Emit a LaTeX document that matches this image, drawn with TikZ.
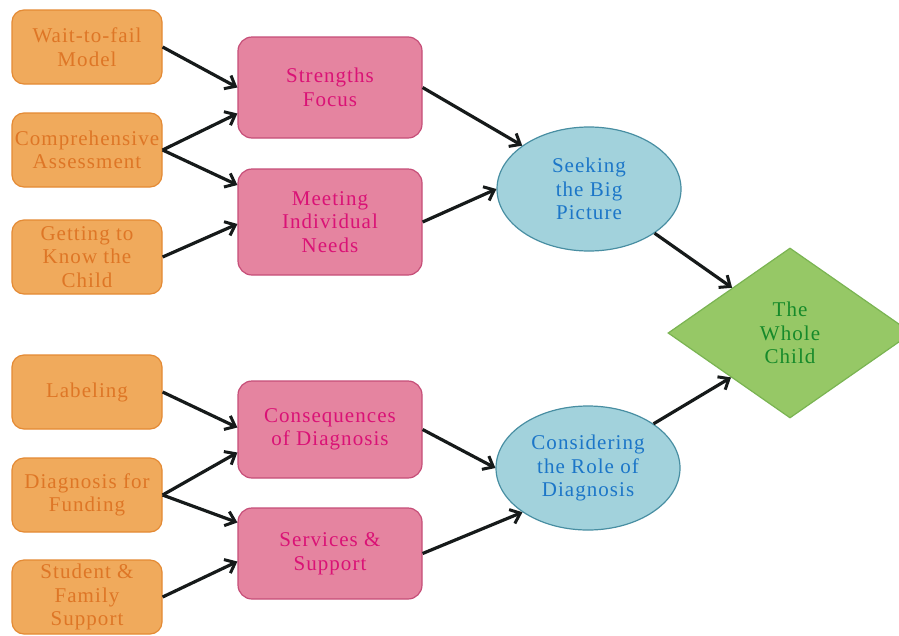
\documentclass[tikz,border=0pt]{standalone}
\usepackage{fontspec}
\setmainfont{Liberation Serif}
\newfontfamily\diagfont{Liberation Serif}[LetterSpace=5.0]
\usetikzlibrary{shapes.geometric,arrows.meta}
\definecolor{orfill}{RGB}{240,170,92}
\definecolor{ordraw}{RGB}{228,138,52}
\definecolor{ortext}{RGB}{222,118,38}
\definecolor{pkfill}{RGB}{229,132,160}
\definecolor{pkdraw}{RGB}{198,78,120}
\definecolor{pktext}{RGB}{218,18,118}
\definecolor{blfill}{RGB}{162,210,220}
\definecolor{bldraw}{RGB}{72,142,162}
\definecolor{bltext}{RGB}{28,118,200}
\definecolor{grfill}{RGB}{150,200,102}
\definecolor{grdraw}{RGB}{122,180,82}
\definecolor{grtext}{RGB}{22,138,42}
\definecolor{arrcol}{RGB}{22,26,26}
\begin{document}
\begin{tikzpicture}[x=1pt,y=-1pt,
  txt/.style={font=\diagfont\fontsize{21}{23.5}\selectfont, align=center, inner sep=0pt},
  obox/.style={txt, rectangle, rounded corners=12pt, draw=ordraw, line width=1.2pt, fill=orfill, text=ortext, minimum width=150pt, minimum height=74pt},
  pbox/.style={txt, rectangle, rounded corners=14pt, draw=pkdraw, line width=1.2pt, fill=pkfill, text=pktext, minimum width=184pt},
  ebox/.style={txt, ellipse, draw=bldraw, line width=1.2pt, fill=blfill, text=bltext, minimum width=184pt, minimum height=124pt},
  dbox/.style={txt, diamond, draw=grdraw, line width=1.2pt, fill=grfill, text=grtext, minimum width=244pt, minimum height=170pt},
  arr/.style={-{Straight Barb[length=9pt,width=15pt,line width=3pt]}, line width=3.2pt, arrcol}
]
\useasboundingbox (0,0) rectangle (899,635);
\fill[white] (0,0) rectangle (899,635);
\clip (0,0) rectangle (899,635);

% left column
\node[obox] (w2f) at (87,47) {Wait-to-fail\\Model};
\node[obox] (comp) at (87,150) {Comprehensive\\Assessment};
\node[obox] (gtk) at (87,257) {Getting to\\Know the\\Child};
\node[obox] (lab) at (87,392) {Labeling};
\node[obox] (dff) at (87,495) {Diagnosis for\\Funding};
\node[obox] (sfs) at (87,597) {Student \&\\Family\\Support};

% middle column
\node[pbox, minimum height=101pt] (str) at (330,87.5) {Strengths\\Focus};
\node[pbox, minimum height=106pt] (min) at (330,222) {Meeting\\Individual\\Needs};
\node[pbox, minimum height=97pt] (cod) at (330,429.5) {Consequences\\of Diagnosis};
\node[pbox, minimum height=91pt] (sas) at (330,553.5) {Services \&\\Support};

% ellipses
\node[ebox] (sbp) at (589,189) {Seeking\\the Big\\Picture};
\node[ebox] (crd) at (588,468) {Considering\\the Role of\\Diagnosis};

% diamond
\node[dbox] (twc) at (790,333) {The\\Whole\\Child};

% connectors
\draw[arr] (w2f.east) -- (str.west);
\draw[arr] (comp.east) -- ([yshift=-26pt]str.west);
\draw[arr] (comp.east) -- ([yshift=37pt]min.west);
\draw[arr] (gtk.east) -- ([yshift=-2pt]min.west);
\draw[arr] (lab.east) -- ([yshift=2pt]cod.west);
\draw[arr] (dff.east) -- ([yshift=-23pt]cod.west);
\draw[arr] (dff.east) -- ([yshift=31pt]sas.west);
\draw[arr] (sfs.east) -- ([yshift=-8pt]sas.west);

\draw[arr] (str.east) -- (sbp.147);
\draw[arr] (min.east) -- (sbp.west);
\draw[arr] (cod.east) -- (crd.west);
\draw[arr] (sas.east) -- (crd.214);

\draw[arr] (sbp.-34) -- (twc.142);
\draw[arr] (crd.34) -- (twc.217);
\end{tikzpicture}
\end{document}
